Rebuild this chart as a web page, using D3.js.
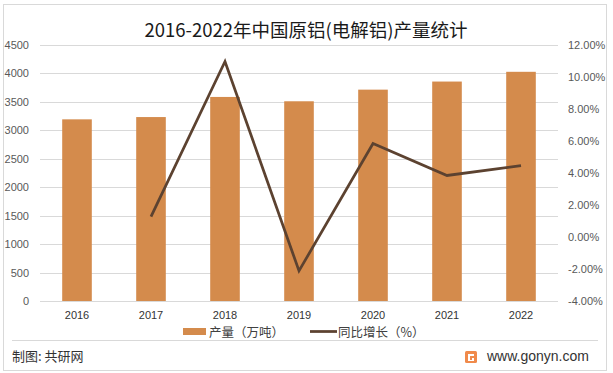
<!DOCTYPE html>
<html>
<head>
<meta charset="utf-8">
<script src="https://cdn.jsdelivr.net/npm/d3@7"></script>
<style>
  body { margin: 0; background: #fff; }
  svg { display: block; }
</style>
</head>
<body>
<div id="chart"></div>
<script>
// data
const years = ["2016", "2017", "2018", "2019", "2020", "2021", "2022"];
const output = [3187, 3227, 3580, 3504, 3708, 3850, 4021];          // 万吨
const growth = [null, 1.26, 10.94, -2.12, 5.82, 3.83, 4.44];       // %
const leftTicks = [0, 500, 1000, 1500, 2000, 2500, 3000, 3500, 4000, 4500];
const rightTicks = [-4, -2, 0, 2, 4, 6, 8, 10, 12];

const W = 613, H = 373;
const plot = { left: 40, right: 558, top: 44.5, bottom: 301 };
const barColor = "#D48B4C", lineColor = "#5C4230", gridColor = "#D9D9D9", textColor = "#595959";
const cjk = "'Noto Sans CJK SC', 'Microsoft YaHei', sans-serif";
const latin = "'Liberation Sans', Arial, sans-serif";

let svg = d3.select("#chart")
    .append("svg")
    .attr("width", W)
    .attr("height", H);

// outer frame
svg.append("rect")
    .attr("x", 3.5).attr("y", 4.5)
    .attr("width", 603).attr("height", 366)
    .attr("fill", "none")
    .attr("stroke", gridColor);

const x = d3.scaleBand()
    .domain(years)
    .range([plot.left, plot.right])
    .paddingInner(0.6)
    .paddingOuter(0.3);

const y = d3.scaleLinear()
    .domain([0, 4500])
    .range([plot.bottom, plot.top]);

const y2 = d3.scaleLinear()
    .domain([-4, 12])
    .range([plot.bottom, plot.top]);

// gridlines
svg.append("g")
    .selectAll("line")
    .data(leftTicks)
    .join("line")
    .attr("x1", plot.left).attr("x2", plot.right)
    .attr("y1", d => Math.round(y(d)) + 0.5)
    .attr("y2", d => Math.round(y(d)) + 0.5)
    .attr("stroke", gridColor);

// left axis
const yAxis = d3.axisLeft(y).tickValues(leftTicks).tickSize(0).tickPadding(0)
    .tickFormat(d3.format("d"));
svg.append("g")
    .attr("transform", "translate(29,0)")
    .call(yAxis)
    .call(g => g.select(".domain").remove())
    .call(g => g.selectAll("text")
        .attr("fill", textColor)
        .style("font-family", latin)
        .style("font-size", "11px"));

// right axis
const y2Axis = d3.axisRight(y2).tickValues(rightTicks).tickSize(0).tickPadding(0)
    .tickFormat(d => d.toFixed(2) + "%");
svg.append("g")
    .attr("transform", "translate(568,0)")
    .call(y2Axis)
    .call(g => g.select(".domain").remove())
    .call(g => g.selectAll("text")
        .attr("fill", textColor)
        .style("font-family", latin)
        .style("font-size", "11px"));

// bottom axis
const xAxis = d3.axisBottom(x).tickSize(0).tickPadding(10);
svg.append("g")
    .attr("transform", `translate(0,${plot.bottom})`)
    .call(xAxis)
    .call(g => g.select(".domain").remove())
    .call(g => g.selectAll("text")
        .attr("fill", "#333")
        .style("font-family", latin)
        .style("font-size", "11px"));

// bars
svg.append("g")
    .selectAll("rect")
    .data(years.map((yr, i) => ({ yr, v: output[i] })))
    .join("rect")
    .attr("x", d => x(d.yr))
    .attr("y", d => y(d.v))
    .attr("width", x.bandwidth())
    .attr("height", d => plot.bottom - y(d.v))
    .attr("fill", barColor);

// growth line
const pts = years.map((yr, i) => ({ yr, v: growth[i] })).filter(d => d.v !== null);
const line = d3.line()
    .x(d => x(d.yr) + x.bandwidth() / 2)
    .y(d => y2(d.v));
svg.append("path")
    .datum(pts)
    .attr("d", line)
    .attr("fill", "none")
    .attr("stroke", lineColor)
    .attr("stroke-width", 2.75)
    .attr("stroke-linejoin", "miter");

// title
svg.append("text")
    .attr("x", 306).attr("y", 37)
    .attr("text-anchor", "middle")
    .attr("fill", "#1a1a1a")
    .style("font-family", cjk)
    .style("font-size", "18.5px")
    .text("2016-2022年中国原铝(电解铝)产量统计");

// legend
let legend = svg.append("g");
legend.append("rect")
    .attr("x", 183).attr("y", 328)
    .attr("width", 23).attr("height", 7)
    .attr("fill", barColor);
legend.append("text")
    .attr("x", 209).attr("y", 337)
    .attr("fill", "#404040")
    .style("font-family", cjk)
    .style("font-size", "12.5px")
    .text("产量（万吨）");
legend.append("line")
    .attr("x1", 310).attr("x2", 337)
    .attr("y1", 331.5).attr("y2", 331.5)
    .attr("stroke", lineColor)
    .attr("stroke-width", 2.75);
legend.append("text")
    .attr("x", 338).attr("y", 337)
    .attr("fill", "#404040")
    .style("font-family", cjk)
    .style("font-size", "12.5px")
    .text("同比增长（%）");

// footer
svg.append("line")
    .attr("x1", 12).attr("x2", 598)
    .attr("y1", 340.5).attr("y2", 340.5)
    .attr("stroke", gridColor);

svg.append("text")
    .attr("x", 12).attr("y", 361)
    .attr("fill", "#333")
    .style("font-family", cjk)
    .style("font-size", "13px")
    .text("制图: 共研网");

// gonyn logo
let logo = svg.append("g").attr("transform", "translate(465,351)");
logo.append("rect")
    .attr("width", 12).attr("height", 12)
    .attr("rx", 1.5)
    .attr("fill", "#F08A4B");
logo.append("path")
    .attr("d", "M3,3 H9 V5 H5 V9 H7 V7 H9 V10 H3 Z")
    .attr("fill", "#fff");

svg.append("text")
    .attr("x", 487).attr("y", 361)
    .attr("fill", "#333")
    .style("font-family", latin)
    .style("font-size", "14px")
    .text("www.gonyn.com");
</script>
</body>
</html>
